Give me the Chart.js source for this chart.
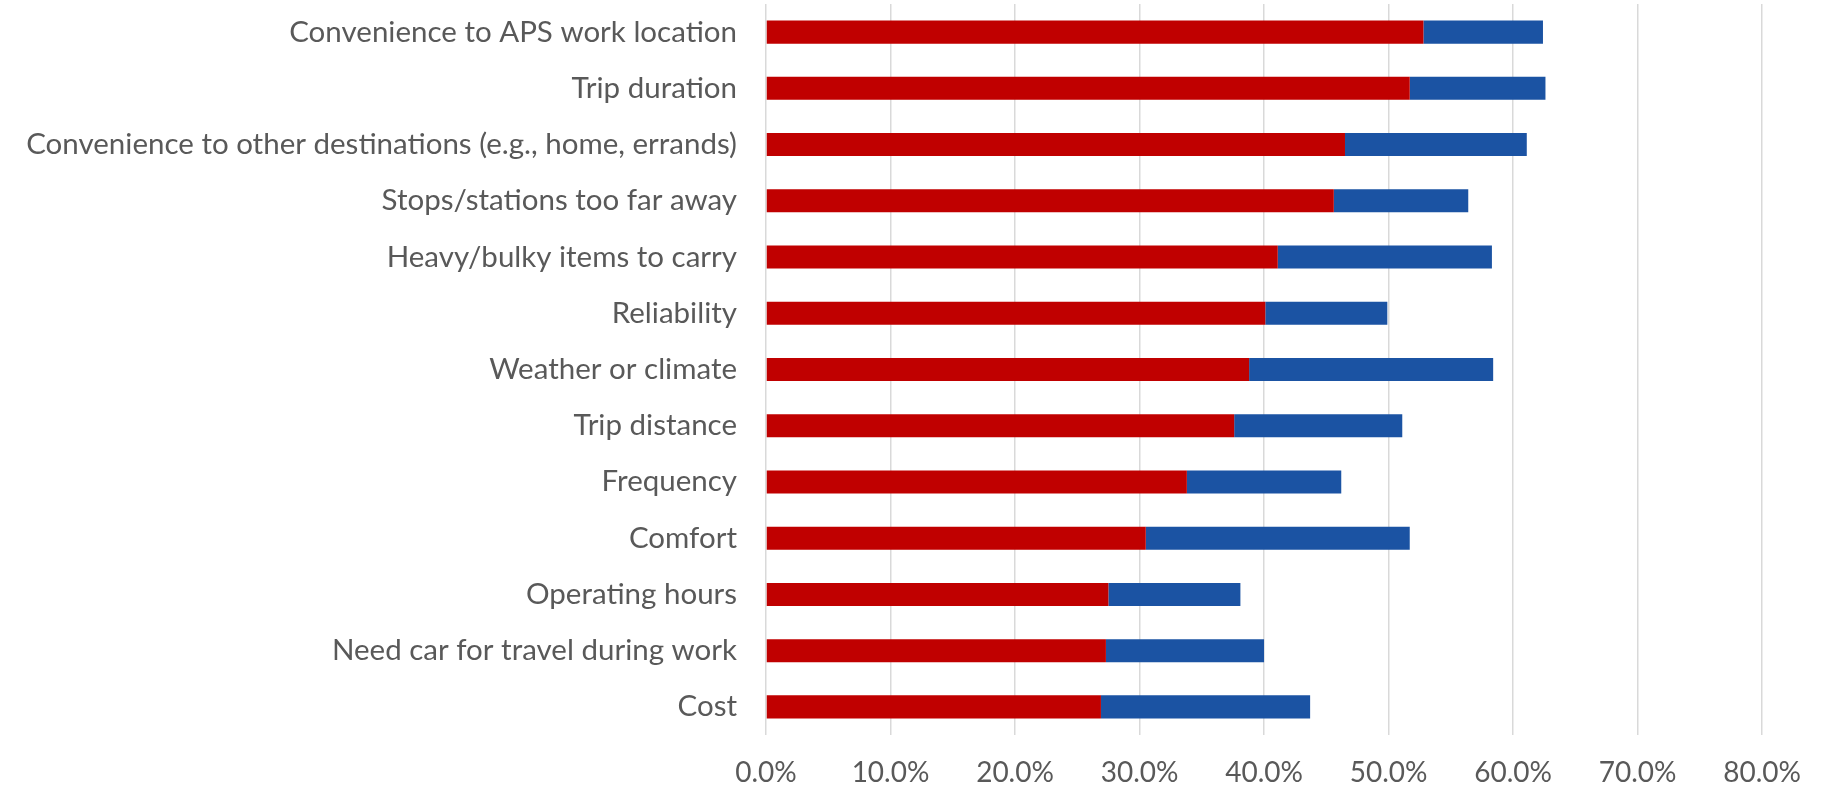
<!DOCTYPE html>
<html>
<head>
<meta charset="utf-8">
<script src="https://cdn.jsdelivr.net/npm/chart.js@4"></script>
<style>
html,body{margin:0;padding:0;background:#fff;}
#wrap{width:1822px;height:792px;}
</style>
</head>
<body>
<div id="wrap"><canvas id="c" width="1822" height="792"></canvas></div>
<script>
const categories = [
  "Convenience to APS work location",
  "Trip duration",
  "Convenience to other destinations (e.g., home, errands)",
  "Stops/stations too far away",
  "Heavy/bulky items to carry",
  "Reliability",
  "Weather or climate",
  "Trip distance",
  "Frequency",
  "Comfort",
  "Operating hours",
  "Need car for travel during work",
  "Cost"
];
const redValues  = [0.528, 0.517, 0.465, 0.456, 0.411, 0.401, 0.388, 0.376, 0.338, 0.305, 0.275, 0.273, 0.269];
const blueValues = [0.096, 0.109, 0.146, 0.108, 0.172, 0.098, 0.196, 0.135, 0.124, 0.212, 0.106, 0.127, 0.168];
const xTickValues = [0, 0.1, 0.2, 0.3, 0.4, 0.5, 0.6, 0.7, 0.8];

const FONT = "Lato";
new Chart(document.getElementById('c'), {
  type: 'bar',
  data: {
    labels: categories,
    datasets: [
      { label: 'Major barrier', data: redValues, backgroundColor: '#C00000', barPercentage: 0.41, categoryPercentage: 1 },
      { label: 'Minor barrier', data: blueValues, backgroundColor: '#1B53A3', barPercentage: 0.41, categoryPercentage: 1 }
    ]
  },
  options: {
    indexAxis: 'y',
    responsive: false,
    devicePixelRatio: 1,
    animation: false,
    layout: { padding: { top: 4, right: 58, left: 0, bottom: 0 } },
    plugins: { legend: { display: false }, tooltip: { enabled: false } },
    scales: {
      x: {
        stacked: true,
        min: 0, max: 0.8,
        afterBuildTicks: (s) => { s.ticks = xTickValues.map(v => ({ value: v })); },
        afterFit: (s) => { s.height = 57; },
        grid: { color: '#d9d9d9', lineWidth: 1.5, drawTicks: false },
        border: { display: false },
        ticks: {
          padding: 21,
          color: '#595959',
          font: { family: FONT, size: 28 },
          callback: (v) => (v * 100).toFixed(1) + '%'
        }
      },
      y: {
        stacked: true,
        afterFit: (s) => { s.width = 766; s.paddingTop = 0; s.paddingBottom = 0; },
        grid: { display: false, drawTicks: false },
        border: { display: false },
        ticks: {
          padding: 29,
          color: '#595959',
          font: { family: FONT, size: 29.5 }
        }
      }
    }
  }
});
</script>
</body>
</html>
